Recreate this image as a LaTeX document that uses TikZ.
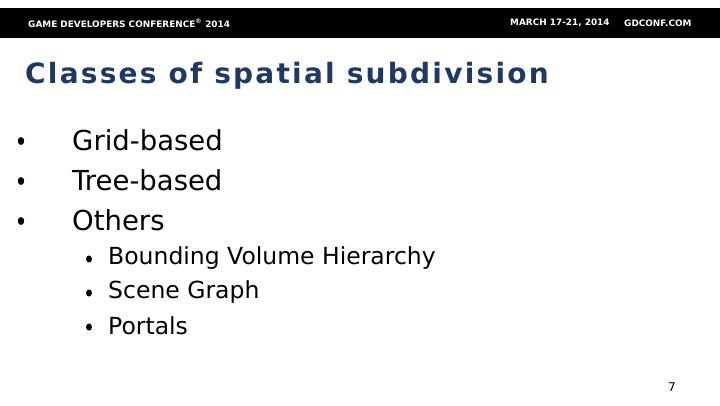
\documentclass[tikz,border=0pt]{standalone}
\usepackage{fontspec}
\setmainfont{DejaVu Sans}
\definecolor{titleblue}{HTML}{1F3864}
\begin{document}
\begin{tikzpicture}[x=1pt,y=-1pt,
  hdr/.style={anchor=west,text=white,font=\bfseries\fontsize{8.9}{9}\selectfont,inner sep=0},
  lvl1/.style={anchor=west,font=\fontsize{27.5}{30}\selectfont,inner sep=0},
  lvl2/.style={anchor=west,font=\fontsize{23.5}{26}\selectfont,inner sep=0}]
\useasboundingbox (0,0) rectangle (720,405);
\fill[black] (0,8) rectangle (720,38);
\node[hdr] (h1) at (28,23) {GAME DEVELOPERS CONFERENCE\textsuperscript{®} 2014};
\node[hdr] (h2) at (510,23) {MARCH 17-21, 2014};
\node[hdr] (h3) at (624,23) {GDCONF.COM};
\node[anchor=west,inner sep=0,text=titleblue,font=\bfseries\fontsize{28}{30}\selectfont\addfontfeature{LetterSpace=8}] (t) at (25,76) {Classes of spatial subdivision};
\foreach \y/\t [count=\i] in {140/Grid-based,180/Tree-based,220/Others}{
  \fill (21,\y+1) ellipse (3.2pt and 4pt);
  \node[lvl1] (l\i) at (72,\y) {\t};
}
\foreach \y/\t [count=\i] in {258/Bounding Volume Hierarchy,292/Scene Graph,326/Portals}{
  \fill (89,\y+1) ellipse (3pt and 3.6pt);
  \node[lvl2] (m\i) at (108,\y) {\t};
}
\node[anchor=west,inner sep=0,font=\fontsize{12}{13}\selectfont] (p) at (668,387) {7};
\end{tikzpicture}
\end{document}
